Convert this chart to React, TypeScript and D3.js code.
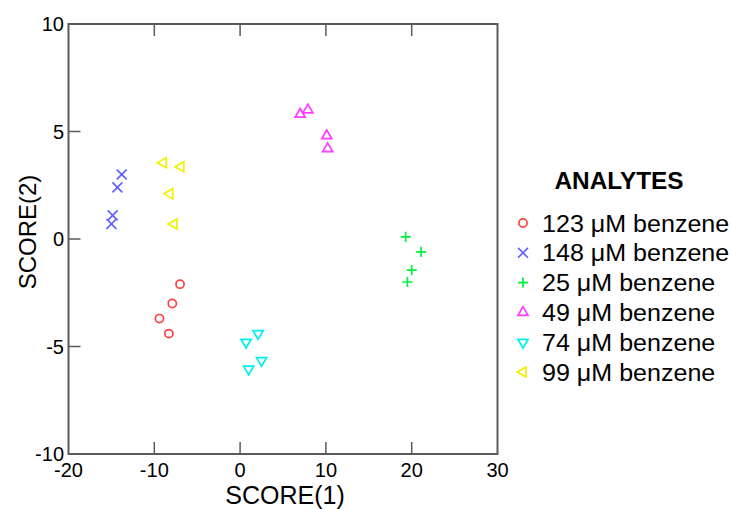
import React from "react";
import * as d3 from "d3";

const seriesNames = [
  "123 μM benzene",
  "148 μM benzene",
  "25 μM benzene",
  "49 μM benzene",
  "74 μM benzene",
  "99 μM benzene",
];
const seriesColors = ["#ff4040", "#6262ff", "#00f03c", "#ff3cff", "#00f0f0", "#f0f000"];
const seriesShapes = ["circle", "x", "plus", "triUp", "triDown", "triLeft"];

const s123 = [
  [-7.0, -2.1],
  [-7.9, -3.0],
  [-9.4, -3.7],
  [-8.3, -4.4],
];
const s148 = [
  [-13.8, 3.0],
  [-14.3, 2.4],
  [-14.85, 1.1],
  [-15.0, 0.7],
];
const s25 = [
  [19.3, 0.1],
  [21.1, -0.6],
  [20.0, -1.45],
  [19.5, -2.0],
];
const s49 = [
  [7.9, 6.0],
  [7.0, 5.8],
  [10.1, 4.8],
  [10.2, 4.2],
];
const s74 = [
  [2.1, -4.4],
  [0.7, -4.8],
  [2.5, -5.65],
  [1.0, -6.05],
];
const s99 = [
  [-8.95, 3.55],
  [-6.9, 3.36],
  [-8.2, 2.1],
  [-7.7, 0.7],
];
const seriesData = [s123, s148, s25, s49, s74, s99];

const xTickValues = [-20, -10, 0, 10, 20, 30];
const yTickValues = [-10, -5, 0, 5, 10];
const xTitle = "SCORE(1)";
const yTitle = "SCORE(2)";
const legendTitle = "ANALYTES";

const W = 731;
const H = 509;
const x = d3.scaleLinear().domain([-20, 30]).range([68.5, 497.5]);
const y = d3.scaleLinear().domain([-10, 10]).range([454, 24]);

function markerPath(shape: string): { d: string; rotate: number } {
  switch (shape) {
    case "circle":
      return { d: d3.symbol().type(d3.symbolCircle).size(52)()!, rotate: 0 };
    case "x":
      return { d: d3.symbol().type(d3.symbolX).size(66)()!, rotate: 0 };
    case "plus":
      return { d: d3.symbol().type(d3.symbolPlus).size(36)()!, rotate: 0 };
    case "triUp":
      return { d: d3.symbol().type(d3.symbolTriangle).size(44)()!, rotate: 0 };
    case "triDown":
      return { d: d3.symbol().type(d3.symbolTriangle).size(44)()!, rotate: 180 };
    case "triLeft":
      return { d: d3.symbol().type(d3.symbolTriangle).size(44)()!, rotate: -90 };
  }
  return { d: "", rotate: 0 };
}

function Marker({ shape, color, cx, cy }: { shape: string; color: string; cx: number; cy: number }) {
  const m = markerPath(shape);
  return (
    <path
      d={m.d}
      transform={`translate(${cx},${cy}) rotate(${m.rotate})`}
      fill="none"
      stroke={color}
      strokeWidth={1.7}
    />
  );
}

export default function App() {
  const axisColor = "#5a5a5a";
  const font = "Arial, 'Liberation Sans', sans-serif";
  const [x0, x1] = x.range();
  const [y0, y1] = y.range();
  const tickLen = 12;
  const innerX = xTickValues.filter((v) => v > -20 && v < 30);
  const innerY = yTickValues.filter((v) => v > -10 && v < 10);
  const legendX = 523;
  const legendTextX = 542;
  const legendY0 = 223;
  const legendStep = 29.8;
  return (
    <svg
      width={W}
      height={H}
      style={{ position: "absolute", left: 0, top: 0, background: "#fff" }}
      fontFamily={font}
    >
      <rect x={0} y={0} width={W} height={H} fill="#fff" />
      <g stroke={axisColor} strokeWidth={1.5}>
        {innerX.map((v) => (
          <g key={"xt" + v}>
            <line x1={x(v)} x2={x(v)} y1={y0} y2={y0 - tickLen} />
            <line x1={x(v)} x2={x(v)} y1={y1} y2={y1 + tickLen} />
          </g>
        ))}
        {innerY.map((v) => (
          <line key={"yt" + v} x1={x0} x2={x0 + tickLen} y1={y(v)} y2={y(v)} />
        ))}
      </g>
      <rect
        x={x0}
        y={y1}
        width={x1 - x0}
        height={y0 - y1}
        fill="none"
        stroke={axisColor}
        strokeWidth={2}
      />
      <g fontSize={20} fill="#000">
        {xTickValues.map((v) => (
          <text key={"xl" + v} x={x(v)} y={477} textAnchor="middle">
            {v}
          </text>
        ))}
        {yTickValues.map((v) => (
          <text key={"yl" + v} x={64} y={y(v)} dy="0.35em" textAnchor="end">
            {v}
          </text>
        ))}
      </g>
      <text x={285} y={504} fontSize={25} textAnchor="middle" fill="#000">
        {xTitle}
      </text>
      <text
        transform={`translate(36,${232}) rotate(-90)`}
        fontSize={24}
        textAnchor="middle"
        fill="#000"
      >
        {yTitle}
      </text>
      {seriesData.map((pts, si) =>
        pts.map((p, i) => (
          <Marker
            key={si + "-" + i}
            shape={seriesShapes[si]}
            color={seriesColors[si]}
            cx={x(p[0])}
            cy={y(p[1])}
          />
        ))
      )}
      <text
        transform="translate(619,189) scale(1.06,1)"
        fontSize={23}
        fontWeight="bold"
        textAnchor="middle"
        fill="#000"
      >
        {legendTitle}
      </text>
      {seriesNames.map((name, i) => {
        const cy = legendY0 + i * legendStep;
        return (
          <g key={"lg" + i}>
            <Marker shape={seriesShapes[i]} color={seriesColors[i]} cx={legendX} cy={cy} />
            <text
              transform={`translate(${legendTextX},${cy}) scale(1.045,1)`}
              dy="0.36em"
              fontSize={24}
              fill="#000"
            >
              {name}
            </text>
          </g>
        );
      })}
    </svg>
  );
}
